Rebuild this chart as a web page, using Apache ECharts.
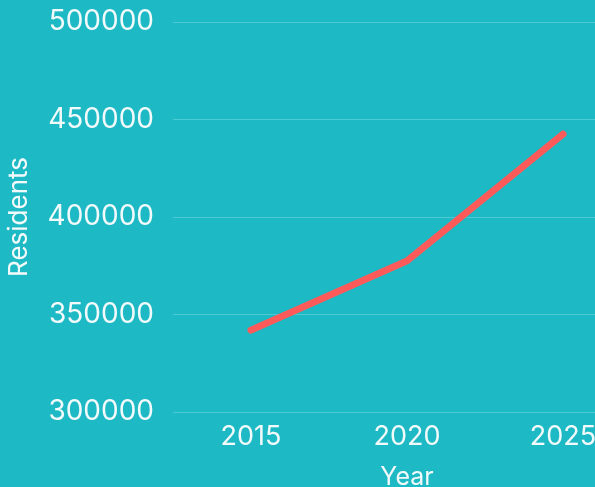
<!DOCTYPE html>
<html>
<head>
<meta charset="utf-8">
<script src="https://cdn.jsdelivr.net/npm/echarts@6/dist/echarts.min.js"></script>
<style>
html,body{margin:0;padding:0;background:#1DB9C5;overflow:hidden;}
#main{width:641px;height:487px;}
</style>
</head>
<body>
<div id="main"></div>
<script>
var years = ['2015', '2020', '2025'];
var residents = [342000, 377500, 442500];
var yTicks = [300000, 350000, 400000, 450000, 500000];

var txt = '#F2FAFB';
var myChart = echarts.init(document.getElementById('main'));
myChart.setOption({
  backgroundColor: '#1DB9C5',
  textStyle: { fontFamily: 'Inter' },
  grid: { left: 173, right: 0, top: 22, bottom: 75, containLabel: false, outerBoundsMode: 'none' },
  xAxis: {
    type: 'category',
    data: years,
    name: 'Year',
    nameLocation: 'middle',
    nameGap: 53,
    nameTextStyle: { color: txt, fontSize: 25, fontFamily: 'Inter' },
    axisLine: { show: false },
    axisTick: { show: false },
    axisLabel: { color: txt, fontSize: 27, margin: 11, fontFamily: 'Inter' }
  },
  yAxis: {
    type: 'value',
    min: yTicks[0],
    max: yTicks[yTicks.length - 1],
    interval: 50000,
    name: 'Residents',
    nameLocation: 'middle',
    nameGap: 141,
    nameTextStyle: { color: txt, fontSize: 26, fontFamily: 'Inter' },
    axisLine: { show: false },
    axisTick: { show: false },
    axisLabel: {
      color: txt, fontSize: 28, margin: 19, fontFamily: 'Inter',
      formatter: function (v) { return String(v); }
    },
    splitLine: { lineStyle: { color: 'rgba(255,255,255,0.22)', width: 1 } }
  },
  series: [{
    type: 'line',
    data: residents,
    showSymbol: false,
    lineStyle: { color: '#FF5A5A', width: 7, cap: 'round', join: 'round' },
    itemStyle: { color: '#FF5A5A' }
  }]
});
</script>
</body>
</html>
